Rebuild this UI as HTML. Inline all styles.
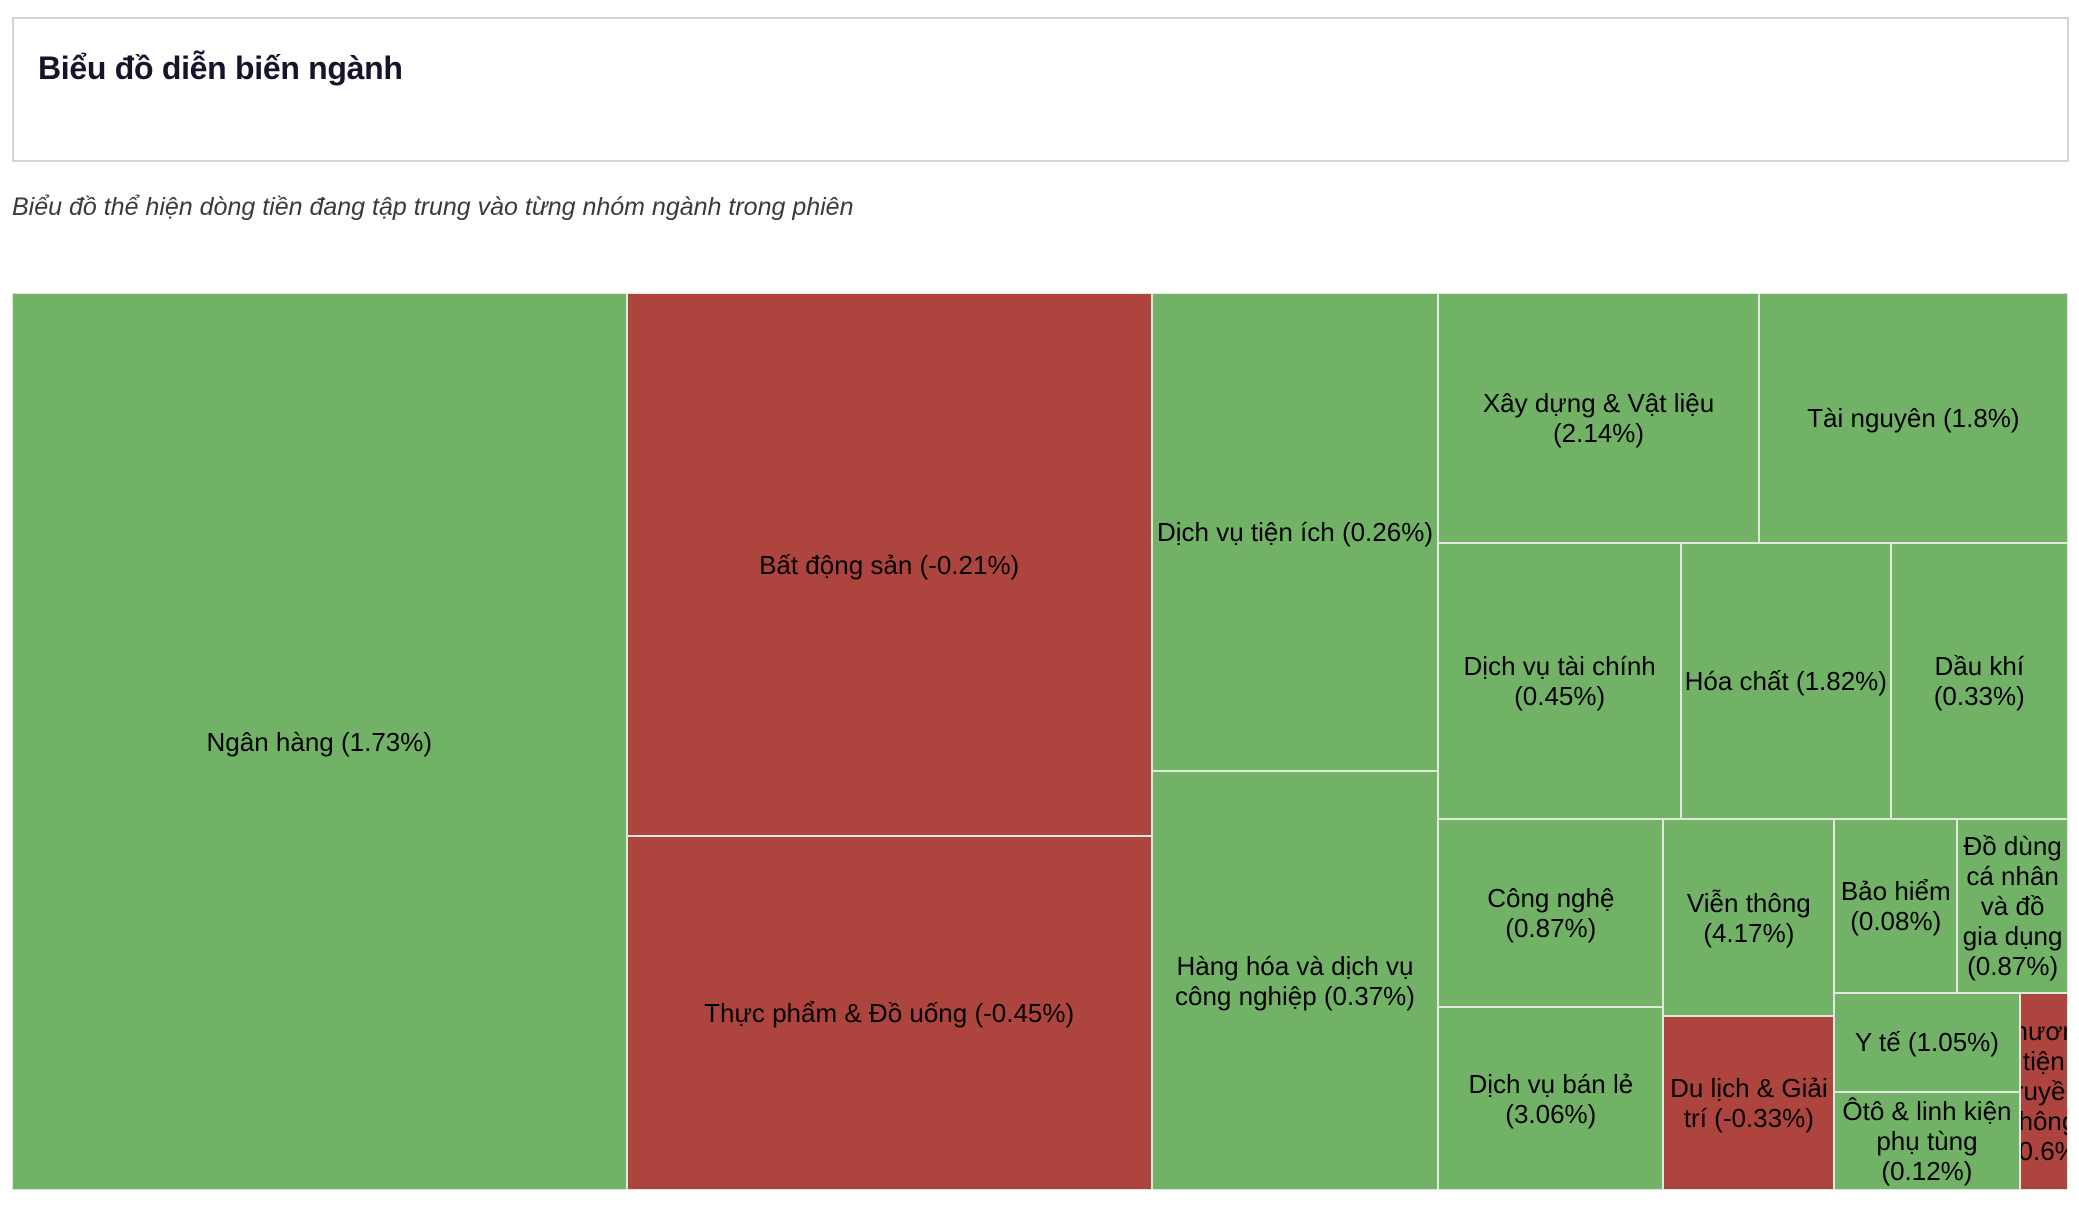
<!DOCTYPE html>
<html><head><meta charset="utf-8">
<style>
html,body{margin:0;padding:0;background:#fff;}
body{width:2079px;height:1209px;position:relative;overflow:hidden;font-family:"Liberation Sans",sans-serif;}
#hdr{position:absolute;left:12px;top:17px;width:2053px;height:141px;border:2px solid #d4d4d8;}
#title{position:absolute;left:38px;top:50px;font-size:32px;font-weight:bold;color:#14142b;letter-spacing:-0.3px;}
#sub{position:absolute;left:12px;top:193px;font-size:25px;font-style:italic;color:#3a3a3a;}
#tm{position:absolute;left:12px;top:293px;width:2056px;height:897px;}
.cell{position:absolute;box-sizing:border-box;border:1px solid #dfe8dc;display:flex;align-items:center;justify-content:center;overflow:hidden;}
.lbl{font-size:26px;line-height:30px;color:#000;text-align:center;padding:0 2px;}
</style></head>
<body>
<div id="hdr"></div>
<div id="title">Biểu đồ diễn biến ngành</div>
<div id="sub">Biểu đồ thể hiện dòng tiền đang tập trung vào từng nhóm ngành trong phiên</div>
<div id="tm"></div>
<script>
const names = ["Ngân hàng","Bất động sản","Thực phẩm & Đồ uống","Dịch vụ tiện ích","Hàng hóa và dịch vụ công nghiệp","Xây dựng & Vật liệu","Tài nguyên","Dịch vụ tài chính","Hóa chất","Dầu khí","Công nghệ","Dịch vụ bán lẻ","Viễn thông","Du lịch & Giải trí","Bảo hiểm","Đồ dùng cá nhân và đồ gia dụng","Y tế","Ôtô & linh kiện phụ tùng","Phương tiện truyền thông"];
const changes = [1.73,-0.21,-0.45,0.26,0.37,2.14,1.8,0.45,1.82,0.33,0.87,3.06,4.17,-0.33,0.08,0.87,1.05,0.12,-0.6];
const values = [3121,1615,1052,776,679,454,438,379,327,277,240,233,191,168,121,109,104,103,54];
// layout tree: h = split horizontally (children side by side), v = stacked
const tree = {d:"h",c:[0,{d:"v",c:[1,2]},{d:"v",c:[3,4]},{d:"v",c:[
  {d:"h",c:[5,6]},
  {d:"h",c:[7,8,9]},
  {d:"h",c:[{d:"v",c:[10,11]},{d:"v",c:[12,13]},{d:"v",c:[{d:"h",c:[14,15]},{d:"h",c:[{d:"v",c:[16,17]},18]}]}]}
]}]};
const W=2056,H=897;
const tm=document.getElementById('tm');
function sum(n){return typeof n==="number"?values[n]:n.c.reduce((a,b)=>a+sum(b),0);}
function layout(n,x,y,w,h){
  if(typeof n==="number"){draw(n,x,y,w,h);return;}
  const t=sum(n);let off=0;
  n.c.forEach(ch=>{const f=sum(ch)/t;
    if(n.d==="h"){layout(ch,x+off*w,y,f*w,h);}else{layout(ch,x,y+off*h,w,f*h);}
    off+=f;});
}
function draw(i,x,y,w,h){
  const d=document.createElement('div');
  d.className='cell';
  
  
  d.style.left=x+'px';d.style.top=y+'px';d.style.width=w+'px';d.style.height=h+'px';
  d.style.background=changes[i]>=0?'#72b267':'#ae443e';
  const l=document.createElement('div');
  l.className='lbl';
  
  
  l.textContent=names[i]+' ('+changes[i]+'%)';
  d.appendChild(l);tm.appendChild(d);
}
layout(tree,0,0,W,H);
</script>
</body></html>
